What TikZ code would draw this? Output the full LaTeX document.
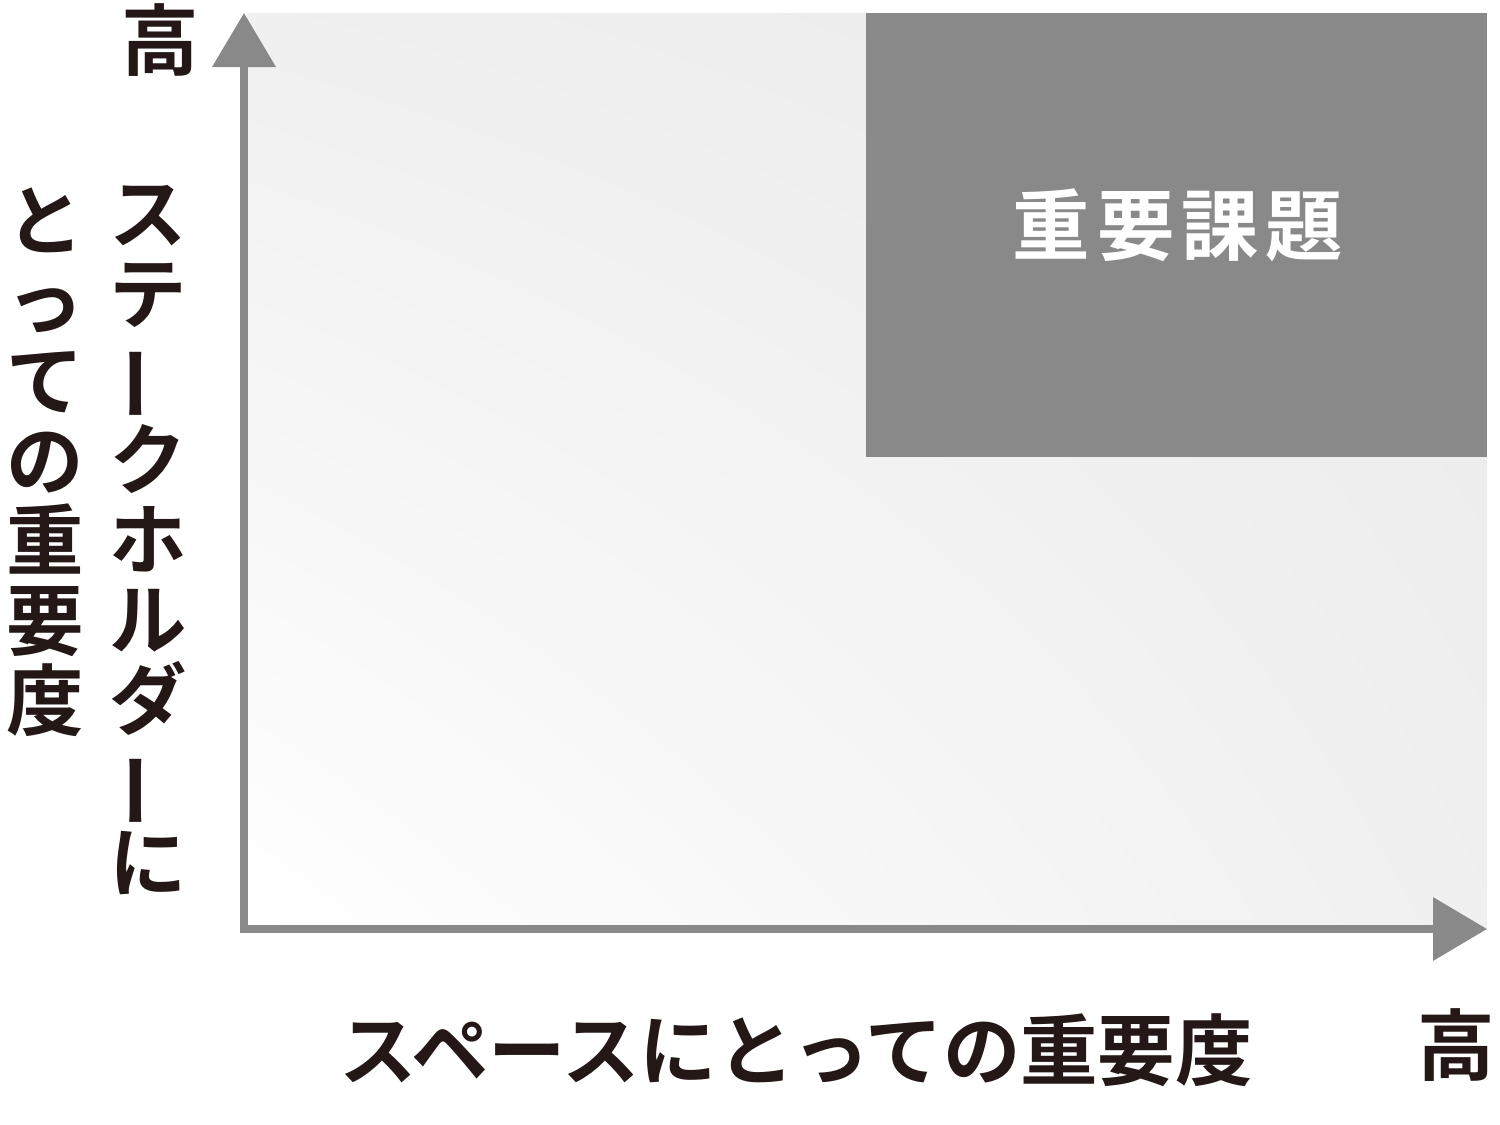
\documentclass[tikz,border=0pt]{standalone}
\usepackage{fontspec}
\newfontfamily\jpfont{Noto Sans CJK JP}[BoldFont={* Bold}]
\usetikzlibrary{arrows.meta,shadings}
\definecolor{ink}{HTML}{231815}
\definecolor{axisgray}{HTML}{898989}

\begin{document}
\begin{tikzpicture}[x=0.5pt,y=-0.5pt,
   jtext/.style={text=ink,inner sep=0pt,align=center,
     font=\jpfont\bfseries\fontsize{38.7}{40}\selectfont},
   axisarrow/.style={draw=axisgray,line width=3.7pt,line join=miter,
     {Triangle[width=31pt,length=27pt]}-{Triangle[width=31pt,length=27pt]}}]
   \useasboundingbox (0,0) rectangle (1500,1125);
   % background field and top-right box
   \shade[lower left=white,upper left=black!6,lower right=black!6,upper right=black!8]
     (247,13) rectangle (1487,927);
   \fill[axisgray] (866,13) rectangle (1487,457);
   \node[jtext,text=white,font=\jpfont\bfseries\fontsize{38.7}{40}\selectfont\addfontfeatures{LetterSpace=9}]
     (issue) at (1178,225) {重要課題};
   % axes
   \coordinate (o)    at (244,929);
   \coordinate (ytop) at (244,13);
   \coordinate (xend) at (1487,929);
   \draw[axisarrow] (ytop) -- (o) -- (xend);
   % labels
   \node[jtext] (yhigh) at (160,40) {高};
   \node[jtext] (xhigh) at (1456,1045) {高};
   \node[jtext] (ylab1) at (148,540)
     {ス\\テ\\\rotatebox[origin=c]{90}{ー}\\ク\\ホ\\ル\\ダ\\\rotatebox[origin=c]{90}{ー}\\に};
   \node[jtext] (ylab2) at (45,462) {と\\っ\\て\\の\\重\\要\\度};
   \node[jtext] (xlab) at (796,1050) {スペースにとっての重要度};
\end{tikzpicture}
\end{document}
